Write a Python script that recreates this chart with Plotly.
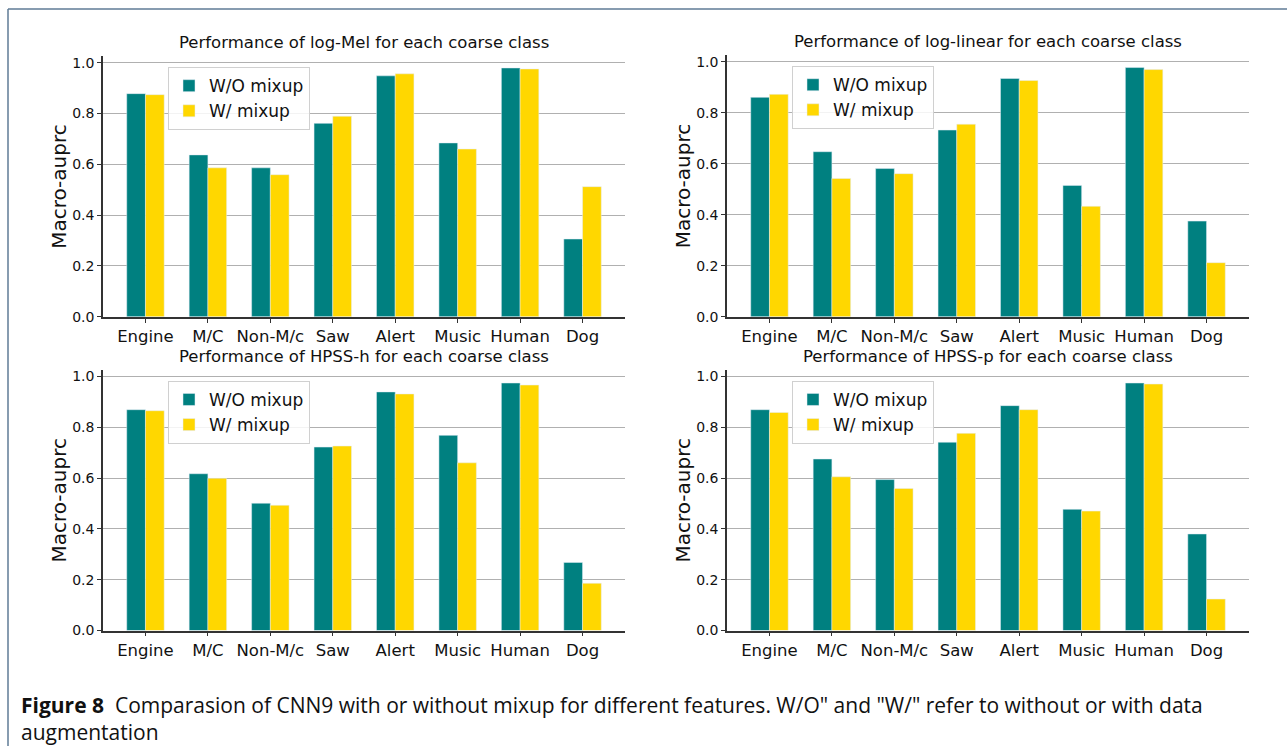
import plotly.graph_objects as go

### data
classes = ['Engine', 'M/C', 'Non-M/c', 'Saw', 'Alert', 'Music', 'Human', 'Dog']
features = ['log-Mel', 'log-linear', 'HPSS-h', 'HPSS-p']

wo_logmel = [0.878, 0.637, 0.586, 0.761, 0.948, 0.684, 0.979, 0.306]
w_logmel = [0.874, 0.586, 0.559, 0.789, 0.956, 0.660, 0.975, 0.512]

wo_loglinear = [0.860, 0.647, 0.581, 0.732, 0.934, 0.515, 0.977, 0.375]
w_loglinear = [0.872, 0.542, 0.561, 0.755, 0.926, 0.433, 0.969, 0.212]

wo_hpssh = [0.869, 0.617, 0.501, 0.722, 0.939, 0.768, 0.974, 0.268]
w_hpssh = [0.865, 0.599, 0.493, 0.726, 0.931, 0.660, 0.966, 0.186]

wo_hpssp = [0.869, 0.675, 0.594, 0.741, 0.885, 0.477, 0.974, 0.380]
w_hpssp = [0.858, 0.605, 0.559, 0.776, 0.869, 0.470, 0.970, 0.124]

y_ticks = [0.0, 0.2, 0.4, 0.6, 0.8, 1.0]

series = [
    (wo_logmel, w_logmel),
    (wo_loglinear, w_loglinear),
    (wo_hpssh, w_hpssh),
    (wo_hpssp, w_hpssp),
]

W, H = 1287, 754
teal = '#008080'
gold = '#FFD700'
font = 'DejaVu Sans'


def yp(px):
    # pixel row from the top -> paper y
    return 1 - px / H


# panel boxes in pixels: (left, right, top, bottom)
boxes = [
    (103, 625, 55, 319),
    (727, 1249, 54, 319),
    (103, 625, 373, 637),
    (727, 1249, 373, 637),
]

fig = go.Figure()

for i, (feat, (wo, w)) in enumerate(zip(features, series)):
    n = '' if i == 0 else str(i + 1)
    leg = 'legend' + n
    x = list(range(len(classes)))
    fig.add_trace(go.Bar(
        x=x, y=wo, name='W/O mixup', marker_color=teal, width=0.3, offset=-0.3,
        xaxis='x' + n, yaxis='y' + n, legend=leg,
    ))
    fig.add_trace(go.Bar(
        x=x, y=w, name='W/ mixup', marker_color=gold, width=0.3, offset=0.0,
        xaxis='x' + n, yaxis='y' + n, legend=leg,
    ))
    l, r, t, b = boxes[i]
    fig.update_layout({
        'xaxis' + n: dict(
            domain=[l / W, r / W], anchor='y' + n, range=[-0.68, 7.68],
            tickvals=x, ticktext=classes, showline=True, linecolor='#333',
            linewidth=1.5, ticks='outside', ticklen=4, tickcolor='#333',
            tickfont=dict(size=16.5, color='#111', family=font), showgrid=False,
            zeroline=False,
        ),
        'yaxis' + n: dict(
            domain=[yp(b), yp(t)], anchor='x' + n, range=[0, 1.025],
            tickvals=y_ticks, ticktext=['%.1f' % v for v in y_ticks],
            showline=True, linecolor='#333', linewidth=1.5, ticks='outside',
            ticklen=4, tickcolor='#333', showgrid=True, gridcolor='#b0b0b0',
            gridwidth=1, zeroline=False,
            tickfont=dict(size=14, color='#111', family=font),
            title=dict(text='Macro-auprc', font=dict(size=20, color='#111', family=font), standoff=0),
        ),
        leg: dict(
            x=(l + 65) / W, y=yp(t + 11), xanchor='left', yanchor='top',
            bgcolor='rgba(255,255,255,0.85)', bordercolor='#d0d0d0', borderwidth=1,
            font=dict(size=17, color='#111', family=font), tracegroupgap=2,
        ),
    })
    fig.add_annotation(
        text='Performance of %s for each coarse class' % feat,
        x=(l + r) / 2 / W, y=yp(t - 14), xref='paper', yref='paper',
        xanchor='center', yanchor='middle', showarrow=False,
        font=dict(size=16.5, color='#111', family=font),
    )

# caption
fig.add_annotation(
    text='<b>Figure 8</b>  Comparasion of CNN9 with or without mixup for different features. '
         'W/O" and "W/" refer to without or with data<br>augmentation',
    x=19 / W, y=yp(726), xref='paper', yref='paper',
    xanchor='left', yanchor='middle', align='left', showarrow=False,
    font=dict(size=21, color='#111', family='Open Sans'),
)

# page frame
fig.add_shape(type='line', xref='paper', yref='paper', x0=8 / W, x1=1, y0=yp(7), y1=yp(7),
              line=dict(color='#5f7b96', width=1.5))
fig.add_shape(type='line', xref='paper', yref='paper', x0=8 / W, x1=8 / W, y0=0, y1=yp(7),
              line=dict(color='#5f7b96', width=1.5))

fig.update_layout(
    width=W, height=H, margin=dict(l=0, r=0, t=0, b=0),
    plot_bgcolor='white', paper_bgcolor='white', barmode='overlay',
    font=dict(family=font, color='#111'),
)

fig.write_html(
    'out.html', config={'displayModeBar': False},
    post_script="document.documentElement.style.margin='0';"
                "document.body.style.margin='0';"
                "document.body.style.overflow='hidden';",
)
